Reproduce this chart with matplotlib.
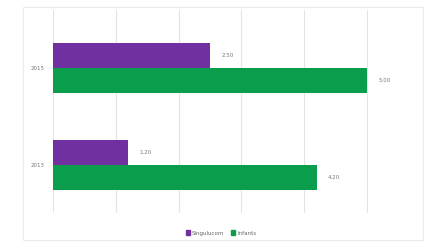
import matplotlib.pyplot as plt
from matplotlib.patches import Rectangle

# chart values
years = ["2013", "2015"]
singulucom = [1.20, 2.50]
infants = [4.20, 5.00]
series_names = ["Singulucom", "Infants"]
colors = ["#7030a0", "#0a9e4c"]

fig = plt.figure(figsize=(4.28, 2.42), dpi=100)

# light card border round the chart
fig.patches.append(Rectangle((23 / 428, 2 / 242), 400 / 428, 233 / 242,
                             transform=fig.transFigure, fill=False,
                             edgecolor="#ececec", linewidth=0.8))

ax = fig.add_axes([53 / 428, 29 / 242, 375 / 428, 203 / 242])

h = 0.26
pos = range(len(years))
bars_top = ax.barh([p + h / 2 for p in pos], singulucom, height=h, color=colors[0], label=series_names[0])
bars_bot = ax.barh([p - h / 2 for p in pos], infants, height=h, color=colors[1], label=series_names[1])

# value labels next to each bar
for bars in (bars_top, bars_bot):
    for b in bars:
        ax.text(b.get_width() + 0.18, b.get_y() + b.get_height() / 2,
                "{:.2f}".format(b.get_width()), va="center", ha="left",
                fontsize=4, color="#777777")

ax.set_xlim(0, 5.97)
ax.set_ylim(-0.5, 1.6)
ax.set_xticks(range(0, 6))
ax.set_xticklabels([])
ax.set_yticks(list(pos))
ax.set_yticklabels(years, fontsize=4, color="#777777")
ax.tick_params(axis="both", length=0, pad=6)
ax.grid(axis="x", color="#e4e4e4", linewidth=0.8)
ax.set_axisbelow(True)
for s in ax.spines.values():
    s.set_visible(False)

handles = [Rectangle((0, 0), 1, 1, color=c) for c in colors]
fig.legend(handles, series_names, loc="center", bbox_to_anchor=(221 / 428, 1 - 233 / 242),
           ncol=2, frameon=False, fontsize=4, handlelength=0.8, handleheight=0.8,
           handletextpad=0.3, columnspacing=1.2, labelcolor="#666666")

fig.savefig("out.png", dpi=100)
